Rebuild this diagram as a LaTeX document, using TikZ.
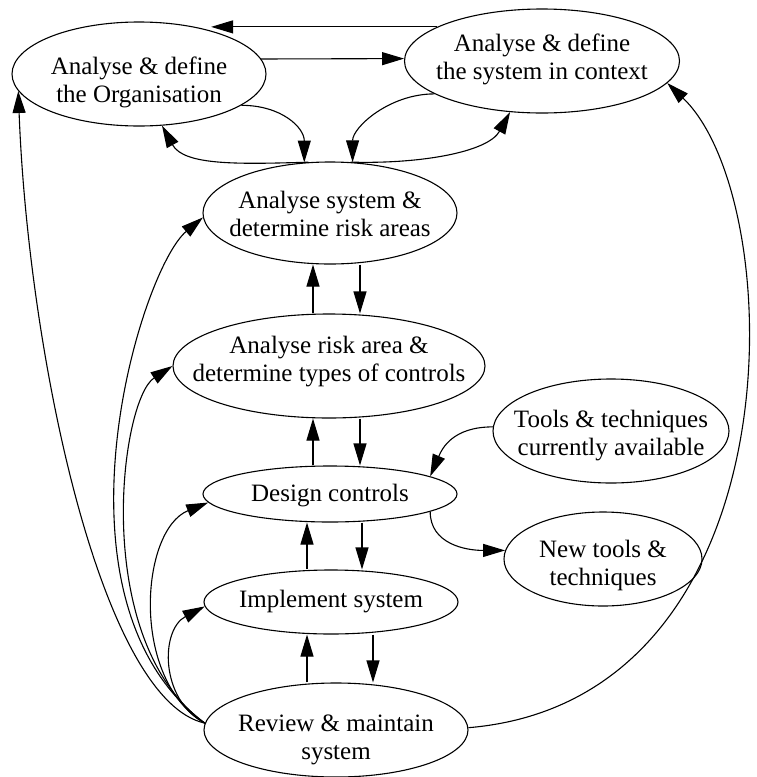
\documentclass[tikz,border=0pt]{standalone}
\usepackage{fontspec}
\setmainfont{Liberation Serif}
\usetikzlibrary{shapes.geometric,arrows.meta}
% centred multi-line label that does not widen its ellipse;
% the optional argument lowers the label inside its ellipse
\newcommand{\stagetext}[2][0pt]{\makebox[0pt]{\raisebox{-#1}[\height][\depth]{\begin{tabular}{@{}c@{}}#2\end{tabular}}}}
\begin{document}
\begin{tikzpicture}[x=1pt,y=-1pt,
  stage/.style={ellipse,draw,line width=1.1pt,inner sep=0pt,
    font=\fontsize{25}{28}\selectfont},
  flow/.style={line width=1.1pt,-{Triangle[length=22pt,width=13pt]}}]
\useasboundingbox (0,0) rectangle (756,777);

% process stages
\node[stage,minimum width=254pt,minimum height=104pt] (org) at (139,74)
  {\stagetext[9pt]{Analyse \& define\\the Organisation}};
\node[stage,minimum width=275pt,minimum height=104pt] (sys) at (542,61)
  {\stagetext[-1pt]{Analyse \& define\\the system in context}};
\node[stage,minimum width=254pt,minimum height=102pt] (as) at (330,213)
  {\stagetext[4pt]{Analyse system \&\\determine risk areas}};
\node[stage,minimum width=312pt,minimum height=104pt] (ara) at (329,366)
  {\stagetext[-4pt]{Analyse risk area \&\\determine types of controls}};
\node[stage,minimum width=254pt,minimum height=56pt] (dc) at (330,494)
  {\stagetext[2pt]{Design controls}};
\node[stage,minimum width=236pt,minimum height=104pt] (tools) at (611,431)
  {\stagetext[5pt]{Tools \& techniques\\currently available}};
\node[stage,minimum width=198pt,minimum height=94pt] (newt) at (603,559)
  {\stagetext[7pt]{New tools \&\\techniques}};
\node[stage,minimum width=254pt,minimum height=64pt] (is) at (331,602)
  {\stagetext{Implement system}};
\node[stage,minimum width=264pt,minimum height=94pt] (rm) at (336,730)
  {\stagetext[10pt]{Review \& maintain\\system}};

% links between the two top stages
\draw[flow] (sys.162) -- (org.31 |- sys.162);
\draw[flow] (org.7) -- (sys.179);

% top stages and system analysis
\draw[flow] (org.-17) .. controls +(40,0) and +(0,-35) .. (as.117);
\draw[flow] (as.113) .. controls +(-70,2) and +(22,40) .. (org.-66);
\draw[flow] (sys.197) .. controls +(-45,0) and +(0,-35) .. (as.66);
\draw[flow] (as.68) .. controls +(70,2) and +(-22,40) .. (sys.238);

% main vertical chain
\draw[flow] ([xshift=-16]ara.north) -- ([xshift=-17]as.south);
\draw[flow] ([xshift=30]as.south) -- ([xshift=31]ara.north);
\draw[flow] ([xshift=-17]dc.north) -- ([xshift=-16]ara.south);
\draw[flow] ([xshift=31]ara.south) -- ([xshift=30]dc.north);
\draw[flow] ([xshift=-24]is.north) -- ([xshift=-23]dc.south);
\draw[flow] ([xshift=32]dc.south) -- ([xshift=31]is.north);
\draw[flow] ([xshift=-29]rm.north) -- ([xshift=-24]is.south);
\draw[flow] ([xshift=42]is.south) -- ([xshift=37]rm.north);

% tools and techniques
\draw[flow] (tools.178) .. controls +(-40,0) and +(12,-28) .. (dc.10);
\draw[flow] (dc.-10) .. controls +(0,32) and +(-40,0) .. (newt.175);

% feedback from review
\draw[flow] (rm.1) .. controls (800,700) and (790,200) .. (sys.-10);
\draw[flow] (rm.177) .. controls (100,700) and (28,350) .. (org.188);
\draw[flow] (rm.177) .. controls (40,600) and (140,270) .. (as.182);
\draw[flow] (rm.177) .. controls (90,640) and (120,400) .. (ara.180);
\draw[flow] (rm.177) .. controls (130,680) and (140,530) .. (dc.184);
\draw[flow] (rm.177) .. controls (160,700) and (160,630) .. (is.182);
\end{tikzpicture}
\end{document}
